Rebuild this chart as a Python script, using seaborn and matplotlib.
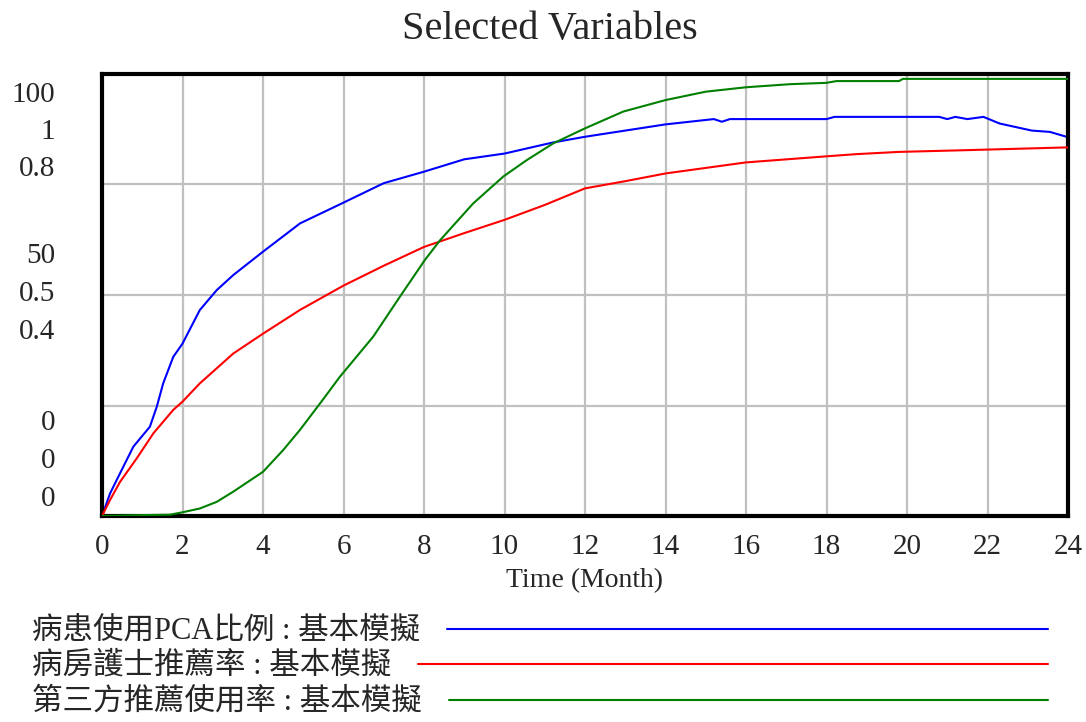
import pandas as pd
import numpy as np

import matplotlib
matplotlib.use('Agg')
import matplotlib.pyplot as plt
from matplotlib.lines import Line2D
import seaborn as sns

sns.set_style("white")
plt.rcParams['font.family'] = ['Liberation Serif', 'Noto Sans CJK TC', 'DejaVu Sans']

# --- data ---
t_pca = [0, 0.2, 0.45, 0.78, 1.19, 1.36, 1.52, 1.77, 2.0, 2.43, 2.85, 3.26, 4.0, 4.92,
         6.0, 7.0, 8.0, 9.0, 10.0, 11.2, 12.0, 13.0, 14.0, 15.2, 15.4, 15.6, 16.0, 18.0,
         18.2, 20.8, 21.0, 21.2, 21.5, 21.9, 22.3, 23.1, 23.55, 24]
pca_ratio = [0, .051, .097, .157, .202, .247, .30, .36, .39, .466, .511, .545, .598, .662,
             .709, .753, .779, .807, .82, .845, .858, .872, .886, .898, .892, .898, .898, .898,
             .903, .903, .898, .903, .898, .903, .888, .872, .869, .857]

t_nurse = [0, 0.2, 0.45, 0.86, 1.28, 1.77, 2.0, 2.43, 3.26, 4.0, 4.92, 6.0, 7.0, 8.0, 9.0,
           10.0, 11.0, 12.0, 13.0, 14.0, 16.0, 18.0, 18.75, 19.8, 21.4, 23.9, 24]
nurse_rate = [0, .029, .062, .104, .150, .192, .207, .24, .294, .330, .373, .417, .453, .487,
              .512, .536, .563, .593, .606, .62, .64, .651, .655, .659, .662, .667, .667]

t_third = [0, 1.0, 1.69, 1.98, 2.43, 2.85, 3.26, 4.0, 4.5, 4.92, 5.42, 5.91, 6.74, 7.4, 8.02,
           8.4, 9.22, 9.97, 10.55, 11.21, 12.0, 12.95, 14.0, 15.0, 16.0, 17.1, 18.0, 18.25,
           19.8, 19.9, 24]
third_rate = [0, 0.2, 0.3, 0.8, 1.7, 3.2, 5.5, 10, 14.9, 19.5, 25.5, 31.5, 40.6, 49.6, 57.9,
              62.4, 70.7, 76.8, 80.5, 84.3, 87.7, 91.5, 94.1, 96, 97, 97.7, 98, 98.4,
              98.4, 98.9, 98.9]

names = ['病患使用PCA比例 : 基本模擬', '病房護士推薦率 : 基本模擬', '第三方推薦使用率 : 基本模擬']
colors = ['#0000ff', '#ff0000', '#008000']
scale_max = [1, 0.8, 100]

top_labels = ['100', '1', '0.8']
mid_labels = ['50', '0.5', '0.4']
bot_labels = ['0', '0', '0']

x_ticks = list(range(0, 25, 2))

df_pca = pd.DataFrame({'t': t_pca, 'v': pca_ratio})
df_nurse = pd.DataFrame({'t': t_nurse, 'v': nurse_rate})
df_third = pd.DataFrame({'t': t_third, 'v': third_rate})

fig = plt.figure(figsize=(10.86, 7.22), dpi=100)
ax = fig.add_axes([102/1086, 1-516/722, 966/1086, 442/722])
ax2 = ax.twinx()
ax3 = ax.twinx()

for a, d, c, m in zip([ax, ax2, ax3], [df_pca, df_nurse, df_third], colors, scale_max):
    sns.lineplot(data=d, x='t', y='v', ax=a, color=c, linewidth=1.5)
    a.set_ylim(0, m)
    a.set_xlim(0, 24)
    a.set_ylabel('')
    a.set_xlabel('')
    a.set_yticks([])
    for s in a.spines.values():
        s.set_visible(False)

ax.set_yticks([0, 0.25, 0.5, 0.75, 1])
ax.set_yticklabels([])
ax.set_xticks(x_ticks)
ax.set_xticklabels([str(v) for v in x_ticks], fontsize=21)
ax.tick_params(axis='both', length=0, pad=13)
ax.grid(True, color='#c0c0c0', linewidth=1.6)
for s in ax.spines.values():
    s.set_visible(True)
    s.set_color('black')
    s.set_linewidth(3)
ax.set_xlabel('Time (Month)', fontsize=20, labelpad=6)

# stacked scale labels, Vensim style (offsets given in pixels)
px = 0.72
for i, lab in enumerate(top_labels):
    ax.annotate(lab, xy=(0, 1), xycoords='axes fraction', xytext=(-47*px, -(21 + 37*i)*px),
                textcoords='offset points', ha='right', va='center', fontsize=21)
for i, lab in enumerate(mid_labels):
    ax.annotate(lab, xy=(0, 0.5), xycoords='axes fraction', xytext=(-47*px, (39 - 38*i)*px),
                textcoords='offset points', ha='right', va='center', fontsize=21)
for i, lab in enumerate(bot_labels):
    ax.annotate(lab, xy=(0, 0), xycoords='axes fraction', xytext=(-47*px, (93 - 38*i)*px),
                textcoords='offset points', ha='right', va='center', fontsize=21)

fig.text(550/1086, 1-30/722, 'Selected Variables', ha='center', va='center', fontsize=29)

# legend rows with a line after each name
rows_y = [631, 666, 702]
texts = []
for n, y in zip(names, rows_y):
    texts.append(fig.text(32/1086, 1-y/722, n, ha='left', va='center', fontsize=22))
fig.canvas.draw()
r = fig.canvas.get_renderer()
for tx, c, y in zip(texts, colors, rows_y):
    bb = tx.get_window_extent(renderer=r)
    x0 = (bb.x1 + 27) / 1086
    fig.add_artist(Line2D([x0, 1048/1086], [1-(y-2)/722]*2, transform=fig.transFigure,
                          color=c, linewidth=1.5))

plt.savefig('out.png', dpi=100)
